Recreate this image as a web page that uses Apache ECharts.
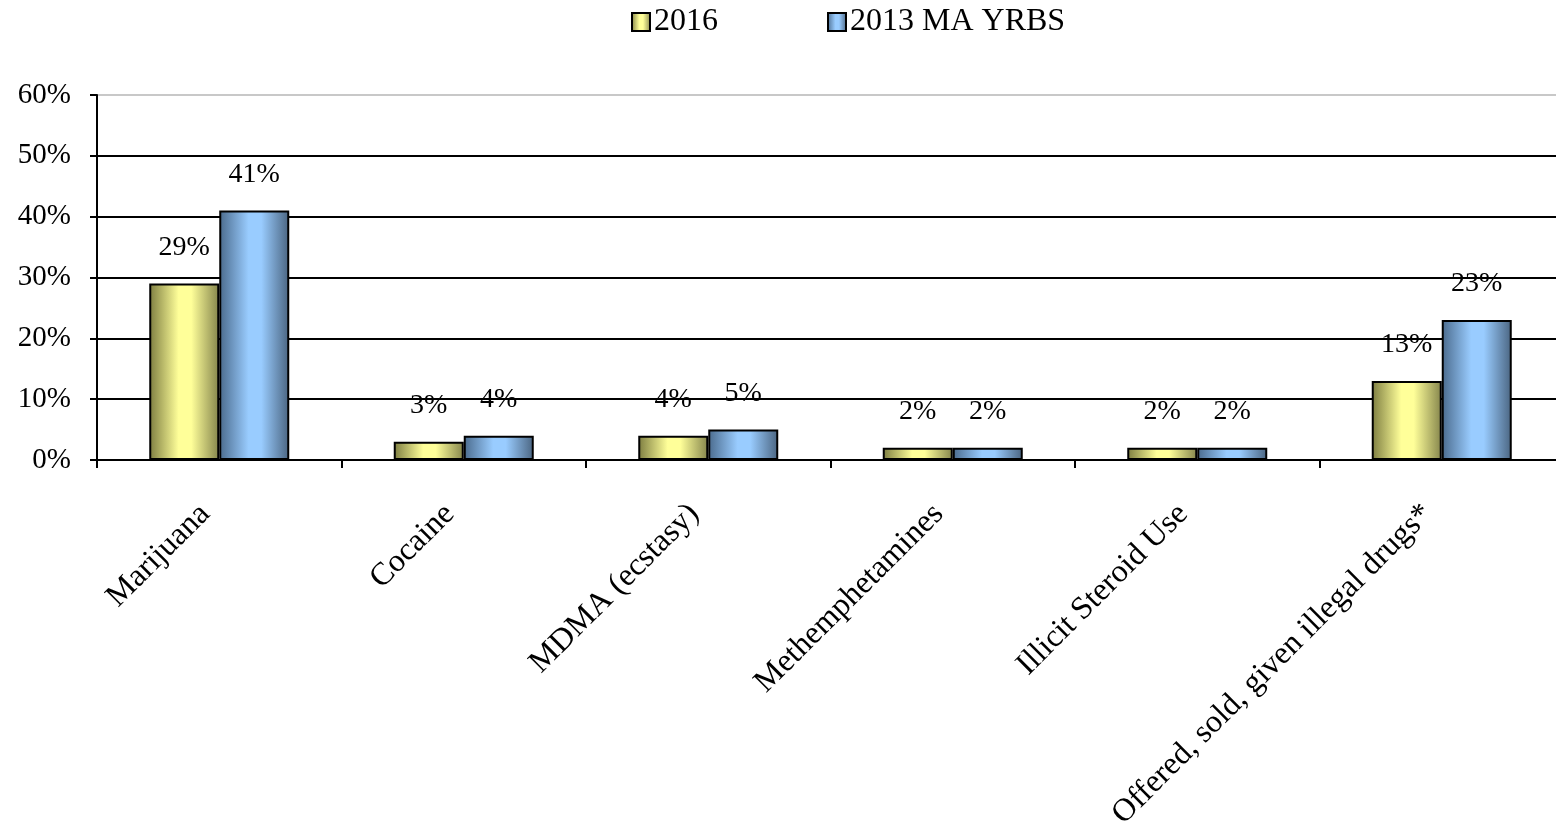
<!DOCTYPE html>
<html>
<head>
<meta charset="utf-8">
<script src="https://cdn.jsdelivr.net/npm/echarts@6/dist/echarts.min.js"></script>
<style>
html, body { margin: 0; padding: 0; background: #fff; }
#chart { width: 1556px; height: 825px; }
</style>
</head>
<body>
<div id="chart"></div>
<script>
var categories = ['Marijuana', 'Cocaine', 'MDMA (ecstasy)', 'Methemphetamines', 'Illicit Steroid Use', 'Offered, sold, given illegal drugs*'];
var values2016 = [29, 3, 4, 2, 2, 13];
var values2013 = [41, 4, 5, 2, 2, 23];
var seriesNames = ['2016', '2013 MA YRBS'];

var font = '"Liberation Serif", "Times New Roman", serif';

function grad(edgeL, mid, edgeR) {
    return new echarts.graphic.LinearGradient(0, 0, 1, 0, [
        { offset: 0, color: edgeL },
        { offset: 0.42, color: mid },
        { offset: 0.6, color: mid },
        { offset: 1, color: edgeR }
    ]);
}

var myChart = echarts.init(document.getElementById('chart'));

var labelStyle = {
    show: true,
    position: 'top',
    distance: 22,
    formatter: '{c}%',
    fontFamily: font,
    fontSize: 28,
    color: '#000'
};

myChart.setOption({
    animation: false,
    legend: {
        top: 1,
        left: 626,
        itemGap: 109,
        itemWidth: 18,
        itemHeight: 18,
        icon: 'rect',
        textStyle: { fontFamily: font, fontSize: 32, color: '#000', padding: [0, 0, 0, -1] },
        data: seriesNames
    },
    grid: { left: 97, width: 1467, top: 95, height: 365, outerBoundsMode: 'none', containLabel: false },
    xAxis: {
        type: 'category',
        data: categories,
        axisLine: { lineStyle: { color: '#000', width: 2 } },
        axisTick: { show: true, length: 8, lineStyle: { color: '#000', width: 2 } },
        axisLabel: {
            rotate: 45,
            interval: 0,
            margin: 35,
            padding: [0, 20, 0, 0],
            fontFamily: font,
            fontSize: 32,
            color: '#000'
        }
    },
    yAxis: {
        type: 'value',
        min: 0,
        max: 60,
        interval: 10,
        axisLine: { show: true, lineStyle: { color: '#000', width: 2 } },
        axisTick: { show: true, length: 7, lineStyle: { color: '#000', width: 2 } },
        axisLabel: {
            formatter: '{value}%',
            margin: 26,
            fontFamily: font,
            fontSize: 29,
            color: '#000'
        },
        splitLine: {
            lineStyle: {
                color: ['#000', '#000', '#000', '#000', '#000', '#000', '#c8c8c8'],
                width: 2
            }
        }
    },
    series: [
        {
            name: seriesNames[0],
            type: 'bar',
            data: values2016,
            barWidth: 70,
            barGap: '0%',
            itemStyle: {
                color: grad('#7c7c40', '#ffff99', '#84844c'),
                borderColor: '#000',
                borderWidth: 2
            },
            label: labelStyle
        },
        {
            name: seriesNames[1],
            type: 'bar',
            data: values2013,
            barWidth: 70,
            barGap: '0%',
            itemStyle: {
                color: grad('#4a6a8c', '#99ccff', '#4a6480'),
                borderColor: '#000',
                borderWidth: 2
            },
            label: labelStyle
        }
    ]
});
</script>
</body>
</html>
